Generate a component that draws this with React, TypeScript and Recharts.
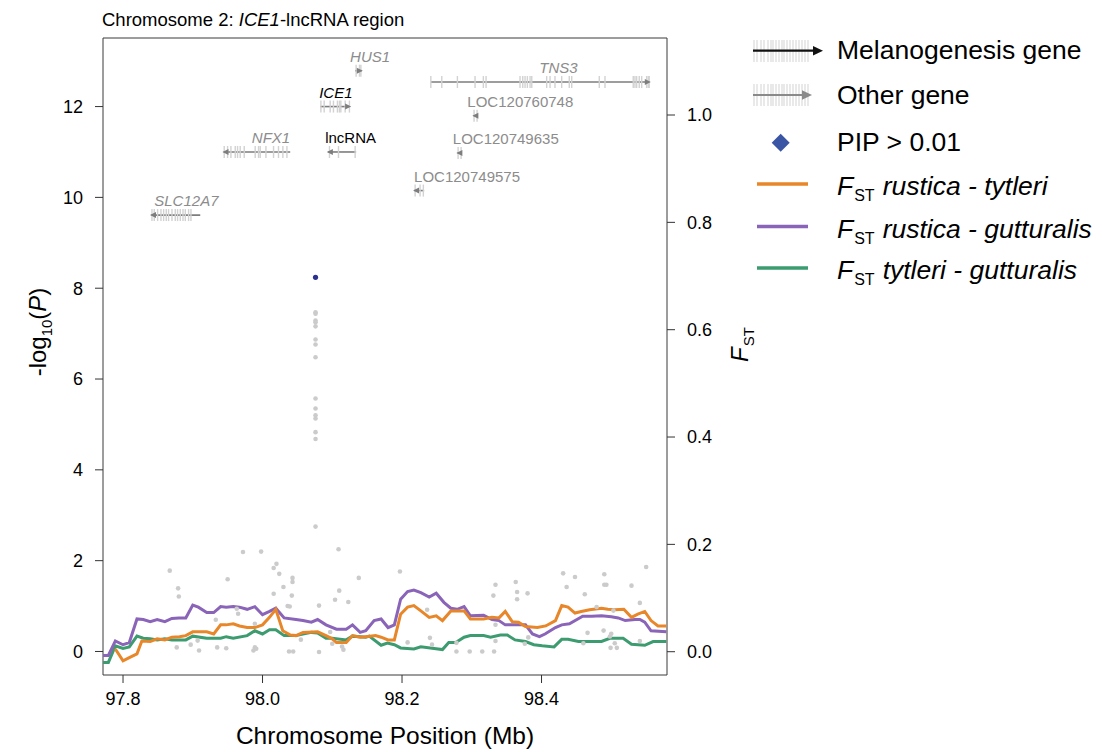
import React from 'react';
import {
  ComposedChart,
  Line,
  Scatter,
  XAxis,
  YAxis,
  ReferenceLine,
  ReferenceArea,
  Legend,
} from 'recharts';

const FONT = '"Liberation Sans", Arial, Helvetica, sans-serif';

// axes
const positionDomain = [97.7713, 98.5799];
const logPDomain = [-0.518, 13.51];
const fstDomain = [-0.0434, 1.1435];
const positionTicks = [97.8, 98.0, 98.2, 98.4];
const logPTicks = [0, 2, 4, 6, 8, 10, 12];
const fstTicks = [0, 0.2, 0.4, 0.6, 0.8, 1.0];

// association results (-log10 P)
const snpPos = [
  97.867, 97.877, 97.879, 97.88, 97.897, 97.907, 97.909, 97.933, 97.935, 97.948, 97.95, 97.963, 97.965, 97.972,
  97.987, 97.989, 97.989, 97.991, 97.998, 98.016, 98.016, 98.02, 98.024, 98.03, 98.036, 98.038, 98.039, 98.042,
  98.043, 98.043, 98.044, 98.055,
  98.076, 98.076, 98.076, 98.076, 98.076, 98.076, 98.076, 98.076, 98.076, 98.076, 98.076, 98.076, 98.076, 98.076,
  98.076,
  98.081, 98.081, 98.097, 98.1, 98.104, 98.109, 98.11, 98.114, 98.116, 98.123, 98.138, 98.197, 98.208, 98.236,
  98.24, 98.243, 98.278, 98.278, 98.297, 98.315, 98.331, 98.332, 98.334, 98.334, 98.334, 98.363, 98.365, 98.365,
  98.376, 98.38, 98.381, 98.431, 98.436, 98.448, 98.46, 98.462, 98.466, 98.479, 98.489, 98.49, 98.49, 98.493,
  98.498, 98.499, 98.5, 98.503, 98.505, 98.508, 98.529, 98.541, 98.541, 98.55,
];
const snpLogP = [
  1.78, 0.09, 1.39, 1.21, 0.15, 0.24, 0.02, 0.7, 0.09, 0.07, 1.59, 0.94, 0.83, 2.19,
  0.02, 0.61, 0.09, 0.06, 2.2, 1.84, 1.27, 1.93, 1.71, 1.42, 1.0, 0.0, 0.99, 1.23,
  1.62, 1.53, 0.0, 0.26,
  2.75, 4.68, 4.83, 5.13, 5.2, 5.35, 5.57, 6.48, 6.76, 6.87, 7.16, 7.25, 7.29, 7.44,
  7.47,
  1.01, -0.01, 0.43, 0.17, 1.14, 2.25, 1.34, 0.11, 0.04, 1.09, 1.62, 1.76, 0.2, 0.92,
  0.3, 0.15, 0.0, 0.19, 0.0, 0.0, 1.23, 0.0, 1.47, 0.59, 0.23, 1.53, 1.31, 1.15,
  0.17, 1.28, 0.31, 1.72, 1.42, 1.64, 0.18, 1.26, 0.41, 0.98, 0.46, 1.7, 1.47, 1.47,
  0.33, 0.08, 0.39, 0.9, 0.18, 0.08, 1.45, 1.07, 0.23, 1.86,
];
const pipPos = [98.076];
const pipLogP = [8.24];

// FST windows
const rtPos = [
  97.789, 97.8, 97.809, 97.82, 97.827, 97.839, 97.849, 97.86, 97.87, 97.881, 97.89, 97.9, 97.92, 97.93, 97.94,
  97.948, 97.958, 97.967, 97.978, 97.989, 98.0, 98.01, 98.019, 98.029, 98.04, 98.048, 98.058, 98.079, 98.091,
  98.1, 98.106, 98.12, 98.129, 98.14, 98.148, 98.162, 98.17, 98.18, 98.189, 98.198, 98.208, 98.217, 98.227,
  98.239, 98.249, 98.258, 98.27, 98.289, 98.298, 98.317, 98.329, 98.339, 98.348, 98.358, 98.367, 98.377,
  98.394, 98.406, 98.42, 98.429, 98.438, 98.448, 98.457, 98.469, 98.486, 98.495, 98.505, 98.518, 98.529,
  98.538, 98.548, 98.557, 98.567, 98.579,
];
const rtFst = [
  0.005, -0.017, -0.011, -0.004, 0.02, 0.019, 0.024, 0.022, 0.027, 0.028, 0.03, 0.037, 0.037, 0.033, 0.05,
  0.05, 0.052, 0.048, 0.045, 0.045, 0.05, 0.064, 0.079, 0.039, 0.031, 0.03, 0.036, 0.037, 0.03,
  0.024, 0.017, 0.017, 0.03, 0.027, 0.028, 0.03, 0.027, 0.022, 0.022, 0.07, 0.083, 0.086, 0.076,
  0.064, 0.067, 0.058, 0.076, 0.076, 0.061, 0.061, 0.064, 0.063, 0.075, 0.056, 0.055, 0.047,
  0.045, 0.048, 0.058, 0.086, 0.083, 0.072, 0.075, 0.078, 0.081, 0.079, 0.078, 0.079, 0.064,
  0.07, 0.075, 0.058, 0.048, 0.048,
];
const rgPos = [
  97.7713, 97.779, 97.789, 97.8, 97.809, 97.82, 97.829, 97.839, 97.849, 97.86, 97.87, 97.88, 97.89, 97.9, 97.908,
  97.92, 97.93, 97.94, 97.948, 97.958, 97.967, 97.978, 97.989, 98.0, 98.01, 98.019, 98.031, 98.048, 98.058,
  98.07, 98.079, 98.091, 98.106, 98.12, 98.129, 98.14, 98.148, 98.16, 98.17, 98.18, 98.189, 98.198, 98.208,
  98.217, 98.227, 98.239, 98.249, 98.26, 98.27, 98.279, 98.289, 98.298, 98.317, 98.329, 98.339, 98.348,
  98.377, 98.387, 98.397, 98.405, 98.42, 98.429, 98.44, 98.459, 98.472, 98.486, 98.5, 98.51, 98.52, 98.534,
  98.541, 98.548, 98.557, 98.579,
];
const rgFst = [
  -0.007, -0.007, 0.02, 0.013, 0.017, 0.061, 0.06, 0.056, 0.06, 0.056, 0.062, 0.063, 0.063, 0.087, 0.083,
  0.073, 0.073, 0.084, 0.083, 0.084, 0.083, 0.079, 0.084, 0.069, 0.075, 0.081, 0.063, 0.06, 0.058,
  0.055, 0.06, 0.05, 0.042, 0.042, 0.05, 0.036, 0.039, 0.058, 0.061, 0.045, 0.05, 0.098, 0.112,
  0.115, 0.11, 0.102, 0.109, 0.092, 0.081, 0.079, 0.084, 0.067, 0.068, 0.06, 0.058, 0.05,
  0.05, 0.033, 0.028, 0.033, 0.045, 0.05, 0.052, 0.066, 0.066, 0.067, 0.065, 0.063, 0.058, 0.06,
  0.06, 0.055, 0.039, 0.037,
];
const tgPos = [
  97.7713, 97.779, 97.789, 97.8, 97.809, 97.82, 97.829, 97.839, 97.849, 97.86, 97.87, 97.89, 97.9, 97.92, 97.94,
  97.948, 97.958, 97.978, 97.989, 98.0, 98.01, 98.019, 98.031, 98.048, 98.07, 98.079, 98.091, 98.1, 98.12,
  98.129, 98.148, 98.153, 98.17, 98.179, 98.189, 98.198, 98.217, 98.227, 98.246, 98.258, 98.267, 98.277,
  98.289, 98.298, 98.317, 98.327, 98.341, 98.351, 98.362, 98.377, 98.389, 98.401, 98.418, 98.429, 98.438,
  98.453, 98.486, 98.498, 98.517, 98.529, 98.548, 98.56, 98.579,
];
const tgFst = [
  -0.02, -0.02, 0.011, 0.006, 0.009, 0.029, 0.025, 0.024, 0.022, 0.024, 0.022, 0.022, 0.029, 0.025, 0.025,
  0.028, 0.025, 0.03, 0.039, 0.033, 0.041, 0.041, 0.03, 0.03, 0.036, 0.035, 0.025, 0.025, 0.022,
  0.029, 0.027, 0.029, 0.012, 0.016, 0.013, 0.007, 0.005, 0.009, 0.006, 0.004, 0.017, 0.017,
  0.027, 0.03, 0.03, 0.027, 0.031, 0.031, 0.022, 0.019, 0.013, 0.011, 0.009, 0.023, 0.023,
  0.019, 0.019, 0.025, 0.025, 0.014, 0.012, 0.019, 0.019,
];

// gene models
const geneNames = ['SLC12A7', 'NFX1', 'lncRNA', 'ICE1', 'HUS1', 'LOC120749575', 'LOC120749635', 'LOC120760748', 'TNS3'];
const geneStart = [97.8401, 97.9441, 98.0937, 98.0827, 98.1327, 98.2173, 98.2794, 98.3023, 98.2413];
const geneEnd = [97.9107, 98.0397, 98.1342, 98.1256, 98.1424, 98.2317, 98.2857, 98.308, 98.5553];
const geneRow = [9.61, 11.0, 11.0, 12.0, 12.79, 10.15, 10.98, 11.8, 12.54];
const geneStrand = ['-', '-', '-', '+', '+', '-', '-', '-', '+'];
const geneLabelPos = [97.8448, 98.0397, 98.0898, 98.0812, 98.1256, 98.2173, 98.2728, 98.2937, 98.3968];
const melanogenesisGenes = ['ICE1', 'lncRNA'];
const geneExons = [
  [97.8415, 97.8448, 97.8496, 97.8544, 97.8582, 97.862, 97.8653, 97.8702, 97.8749, 97.8782, 97.8821, 97.886, 97.8893, 97.894, 97.8974],
  [97.9451, 97.9499, 97.9547, 97.9609, 97.9642, 97.968, 97.9738, 97.9895, 97.9943, 97.9967, 98.0049, 98.0158, 98.0229, 98.0292, 98.035],
  [98.096, 98.1089, 98.1328],
  [98.0837, 98.0884, 98.097, 98.1017, 98.1074, 98.1103, 98.1123, 98.1185, 98.1246],
  [98.1342, 98.139, 98.141],
  [98.2188, 98.2259, 98.2306],
  [98.2804, 98.2847],
  [98.3033, 98.3076],
  [98.2413, 98.257, 98.2794, 98.3047, 98.3166, 98.3205, 98.3692, 98.3731, 98.3764, 98.3797, 98.3836, 98.386, 98.4074, 98.4122,
    98.4193, 98.4289, 98.4398, 98.4433, 98.4828, 98.491, 98.5315, 98.534, 98.5364, 98.5401, 98.5436, 98.5507, 98.553, 98.5544],
];

const snpData = snpPos.map((p, i) => ({ pos: p, logp: snpLogP[i] }));
const pipData = pipPos.map((p, i) => ({ pos: p, logp: pipLogP[i] }));
const rtData = rtPos.map((p, i) => ({ pos: p, fst: rtFst[i] }));
const rgData = rgPos.map((p, i) => ({ pos: p, fst: rgFst[i] }));
const tgData = tgPos.map((p, i) => ({ pos: p, fst: tgFst[i] }));

const labelData = geneNames.map((name, i) => ({
  pos: geneLabelPos[i],
  logp: geneRow[i],
  name,
  anchor: name === 'NFX1' ? 'end' : 'start',
  italic: !name.startsWith('LOC') && name !== 'lncRNA',
  melano: melanogenesisGenes.includes(name),
}));
const arrowData = geneNames.map((name, i) => ({
  pos: geneStrand[i] === '+' ? geneEnd[i] : geneStart[i],
  logp: geneRow[i],
  strand: geneStrand[i],
}));
const exonData = geneExons.flatMap((ex, i) => ex.map((p) => ({ pos: p, logp: geneRow[i] })));

const GENE_GREY = '#7d7d7d';

const SnpDot = (props: any) => <circle cx={props.cx} cy={props.cy} r={2.3} fill="#cbcbcb" />;
const PipDot = (props: any) => <circle cx={props.cx} cy={props.cy} r={2.6} fill="#2b318f" />;
const ExonTick = (props: any) => (
  <line x1={props.cx} x2={props.cx} y1={props.cy - 6} y2={props.cy + 6} stroke="#d2d2d2" strokeWidth={1.4} />
);
const GeneArrow = (props: any) => {
  const { cx, cy, payload } = props;
  const d = payload.strand === '+' ? 1 : -1;
  return <path d={`M${cx + d * 1},${cy} L${cx - d * 5},${cy - 3} L${cx - d * 5},${cy + 3} Z`} fill={GENE_GREY} />;
};
const GeneLabel = (props: any) => {
  const { cx, cy, payload } = props;
  return (
    <text
      x={cx}
      y={cy - 9}
      textAnchor={payload.anchor}
      fontSize={15}
      fontFamily={FONT}
      fontStyle={payload.italic ? 'italic' : 'normal'}
      fill={payload.melano ? '#000' : '#8c8c8c'}
    >
      {payload.name}
    </text>
  );
};

const LeftTitle = () => (
  <text transform="translate(46,332) rotate(-90)" textAnchor="middle" fontSize={24} fontFamily={FONT} fill="#000">
    -log<tspan fontSize={15} dy={6}>10</tspan>
    <tspan dy={-6}>(</tspan>
    <tspan fontStyle="italic">P</tspan>)
  </text>
);
const RightTitle = () => (
  <text transform="translate(748,362) rotate(-90)" fontSize={24} fontFamily={FONT} fill="#000">
    <tspan fontStyle="italic">F</tspan>
    <tspan fontSize={15} dy={6} dx={1}>ST</tspan>
  </text>
);

const legendTicks = [12, 15, 19, 22, 26, 29, 31, 34, 37, 40, 42, 45, 48, 51, 54, 57, 60, 63, 66];
const fstLegend = [
  { color: '#e8862a', a: 'rustica', b: 'tytleri', y: 156 },
  { color: '#8a64b8', a: 'rustica', b: 'gutturalis', y: 198.5 },
  { color: '#3d9b70', a: 'tytleri', b: 'gutturalis', y: 240 },
];

const LegendBox = () => (
  <svg width={360} height={270} style={{ display: 'block', overflow: 'visible' }} fontFamily={FONT}>
    {legendTicks.map((t) => (
      <line key={'a' + t} x1={t} x2={t} y1={12} y2={34} stroke="#dadada" strokeWidth={1.2} />
    ))}
    <line x1={11} x2={74} y1={22.7} y2={22.7} stroke="#111" strokeWidth={2.2} />
    <path d="M81,22.7 L71,18 L71,27.4 Z" fill="#111" />
    <text x={95} y={31} fontSize={26.5} fill="#000">Melanogenesis gene</text>
    {legendTicks.map((t) => (
      <line key={'b' + t} x1={t} x2={t} y1={56} y2={78} stroke="#dadada" strokeWidth={1.2} />
    ))}
    <line x1={11} x2={62} y1={67} y2={67} stroke="#8a8a8a" strokeWidth={2.2} />
    <path d="M70,67 L60,62.3 L60,71.7 Z" fill="#8a8a8a" />
    <text x={95} y={76} fontSize={26.5} fill="#000">Other gene</text>
    <path d="M38.7,105.7 L47.7,114.7 L38.7,123.7 L29.7,114.7 Z" fill="#3b55a5" />
    <text x={95} y={123} fontSize={26.5} fill="#000">PIP &gt; 0.01</text>
    {fstLegend.map((r) => (
      <g key={r.a + r.b}>
        <line x1={15} x2={66} y1={r.y} y2={r.y} stroke={r.color} strokeWidth={3.5} />
        <text x={95} y={r.y + 11} fontSize={26.5} fill="#000">
          <tspan fontStyle="italic">F</tspan>
          <tspan fontSize={16} dy={6} dx={1}>ST</tspan>
          <tspan fontStyle="italic" dy={-6} dx={8}>{`${r.a} - ${r.b}`}</tspan>
        </text>
      </g>
    ))}
  </svg>
);

export default function App() {
  const tickStyle = { fontSize: 18, fill: '#000', fontFamily: FONT };
  return (
    <div style={{ position: 'absolute', left: 0, top: 0, width: 1102, height: 752, background: '#fff' }}>
      <svg width={1102} height={40} style={{ position: 'absolute', left: 0, top: 0, zIndex: 2, pointerEvents: 'none' }}>
        <text x={102} y={26} fontSize={18.5} fontFamily={FONT} fill="#000">
          Chromosome 2: <tspan fontStyle="italic">ICE1</tspan>-lncRNA region
        </text>
      </svg>
      <ComposedChart width={1102} height={752} margin={{ top: 38, right: 0, bottom: 0, left: 0 }}>
        <XAxis
          type="number"
          dataKey="pos"
          domain={positionDomain}
          allowDataOverflow
          ticks={positionTicks}
          interval={0}
          tickFormatter={(v: number) => v.toFixed(1)}
          tick={tickStyle}
          tickLine={{ stroke: '#333' }}
          tickSize={8}
          tickMargin={9}
          axisLine={false}
          height={77}
          label={{ value: 'Chromosome Position (Mb)', position: 'insideBottom', offset: 8, fontSize: 24.5, fill: '#000', fontFamily: FONT }}
        />
        <YAxis
          yAxisId="logp"
          type="number"
          dataKey="logp"
          domain={logPDomain}
          allowDataOverflow
          ticks={logPTicks}
          interval={0}
          tick={tickStyle}
          tickLine={{ stroke: '#333' }}
          tickSize={8}
          tickMargin={12}
          axisLine={false}
          width={103}
          label={<LeftTitle />}
        />
        <YAxis
          yAxisId="fst"
          orientation="right"
          type="number"
          dataKey="fst"
          domain={fstDomain}
          allowDataOverflow
          ticks={fstTicks}
          interval={0}
          tickFormatter={(v: number) => v.toFixed(1)}
          tick={tickStyle}
          tickLine={{ stroke: '#333' }}
          tickSize={8}
          tickMargin={12}
          axisLine={false}
          width={435}
          label={<RightTitle />}
        />
        <ReferenceArea
          yAxisId="logp"
          x1={positionDomain[0]}
          x2={positionDomain[1]}
          y1={logPDomain[0]}
          y2={logPDomain[1]}
          fill="none"
          stroke="#3a3a3a"
          strokeWidth={1}
          fillOpacity={0}
          ifOverflow="visible"
        />
        <Scatter yAxisId="logp" data={exonData} shape={ExonTick} isAnimationActive={false} legendType="none" />
        {geneNames.map((name, i) => (
          <ReferenceLine
            key={name}
            yAxisId="logp"
            segment={[
              { x: geneStart[i], y: geneRow[i] },
              { x: geneEnd[i], y: geneRow[i] },
            ]}
            stroke={GENE_GREY}
            strokeWidth={1.6}
            ifOverflow="visible"
          />
        ))}
        <Scatter yAxisId="logp" data={arrowData} shape={GeneArrow} isAnimationActive={false} legendType="none" />
        <Scatter yAxisId="logp" data={labelData} shape={GeneLabel} isAnimationActive={false} legendType="none" />
        <Scatter yAxisId="logp" data={snpData} shape={SnpDot} isAnimationActive={false} legendType="none" />
        <Scatter yAxisId="logp" data={pipData} shape={PipDot} isAnimationActive={false} legendType="none" />
        <Line yAxisId="fst" data={tgData} dataKey="fst" type="linear" stroke="#3d9b70" strokeWidth={3} dot={false} isAnimationActive={false} />
        <Line yAxisId="fst" data={rgData} dataKey="fst" type="linear" stroke="#8a64b8" strokeWidth={3} dot={false} isAnimationActive={false} />
        <Line yAxisId="fst" data={rtData} dataKey="fst" type="linear" stroke="#e8862a" strokeWidth={3} dot={false} isAnimationActive={false} />
        <Legend
          layout="vertical"
          align="center"
          verticalAlign="middle"
          wrapperStyle={{ left: 742, top: 28, width: 360, height: 270 }}
          content={() => <LegendBox />}
        />
      </ComposedChart>
    </div>
  );
}
